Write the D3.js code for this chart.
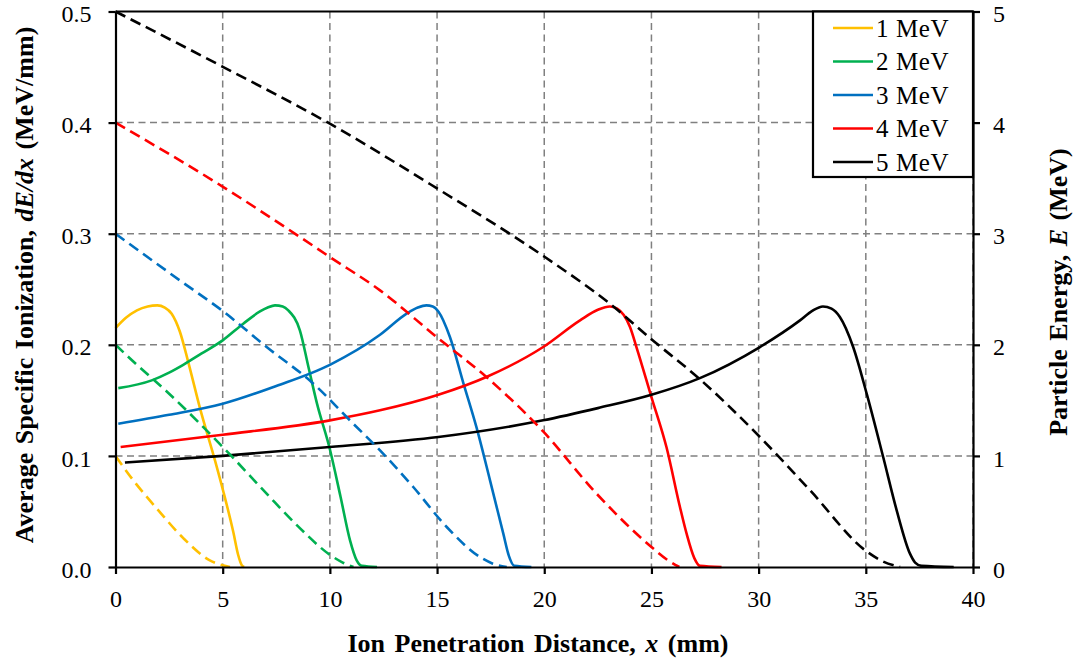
<!DOCTYPE html>
<html>
<head>
<meta charset="utf-8">
<script src="https://cdn.jsdelivr.net/npm/d3@7"></script>
<style>
  html, body { margin: 0; padding: 0; background: #fff; }
  svg { display: block; }
  text { font-family: "Liberation Serif", "Times New Roman", serif; fill: #000; }
</style>
</head>
<body>
<svg id="chart" width="1078" height="666"></svg>
<script>
// Series labels and colours
const seriesNames = ["1 MeV", "2 MeV", "3 MeV", "4 MeV", "5 MeV"];
const seriesColors = ["#FFC000", "#00B050", "#0070C0", "#FF0000", "#000000"];

// Average specific ionization dE/dx (MeV/mm) vs penetration distance x (mm)
const dedx1 = [[0,0.215],[0.5,0.2245],[1.0,0.231],[1.5,0.2345],[1.95,0.2355],[2.3,0.2335],[2.62,0.228],[3.0,0.212],[3.4,0.184],[3.94,0.143],[4.64,0.096],[5.03,0.068],[5.5,0.031],[5.72,0.011],[5.88,0.002],[6.0,0]];
const dedx2 = [[0.13,0.161],[1.69,0.168],[2.5,0.175],[3.16,0.182],[4.0,0.192],[5.0,0.204],[5.96,0.219],[6.74,0.230],[7.1,0.2335],[7.44,0.2355],[7.8,0.2345],[8.06,0.231],[8.6,0.213],[9.0,0.180],[9.4,0.147],[10.0,0.106],[10.5,0.063],[10.94,0.024],[11.25,0.006],[11.5,0.001],[12.2,0]];
const dedx3 = [[0.13,0.129],[2.5,0.137],[5.0,0.147],[7.5,0.163],[10.0,0.182],[12.34,0.209],[13.58,0.228],[14.1,0.2335],[14.5,0.2355],[14.8,0.2345],[15.06,0.230],[15.6,0.207],[16.22,0.166],[16.85,0.125],[17.47,0.078],[18.09,0.030],[18.35,0.010],[18.6,0.001],[19.4,0]];
const dedx4 = [[0.24,0.108],[5.0,0.119],[10.0,0.132],[12.34,0.141],[15.06,0.155],[17.3,0.171],[19.95,0.198],[21.67,0.222],[22.5,0.2315],[23.06,0.2345],[23.4,0.2325],[23.7,0.227],[24.0,0.216],[24.3,0.198],[25.0,0.153],[25.7,0.108],[26.33,0.054],[26.64,0.030],[27.0,0.008],[27.26,0.001],[28.27,0]];
const dedx5 = [[0.44,0.094],[5.0,0.100],[10.0,0.108],[15.06,0.117],[19.95,0.132],[22.5,0.143],[25.0,0.155],[27.26,0.170],[30.06,0.198],[31.93,0.222],[32.5,0.2305],[33.0,0.2345],[33.4,0.2325],[33.79,0.225],[34.41,0.198],[35.04,0.156],[35.81,0.099],[36.44,0.051],[37.06,0.012],[37.3,0.004],[37.6,0.001],[39.1,0]];

// Particle energy E (MeV) vs penetration distance x (mm)
const energy1 = [[0,1.0],[0.83,0.78],[2.0,0.51],[3.16,0.26],[4.4,0.06],[5.0,0.015],[5.34,0]];
const energy2 = [[0,2.0],[0.83,1.85],[2.39,1.58],[3.94,1.29],[5.5,0.98],[7.05,0.66],[8.6,0.35],[10.0,0.11],[10.6,0.04],[11.1,0]];
const energy3 = [[0,3.0],[3.0,2.58],[5.03,2.30],[7.05,1.98],[9.23,1.65],[11.09,1.29],[12.34,1.05],[13.89,0.72],[15.45,0.36],[17.0,0.09],[17.6,0.03],[18.25,0]];
const energy4 = [[0,4.0],[5.03,3.42],[8.45,2.99],[10.0,2.79],[12.34,2.49],[14.98,2.07],[17.3,1.71],[19.95,1.22],[22.44,0.66],[25.0,0.18],[25.7,0.07],[26.3,0]];
const energy5 = [[0,5.0],[5.03,4.50],[10.0,3.99],[14.98,3.41],[20.03,2.79],[23.06,2.37],[25.0,2.05],[27.26,1.69],[30.06,1.17],[32.4,0.69],[35.04,0.14],[35.8,0.05],[36.6,0]];

// Tick values
const xTicks = [0, 5, 10, 15, 20, 25, 30, 35, 40];
const yLeftTicks = [0, 0.1, 0.2, 0.3, 0.4, 0.5];
const yRightTicks = [0, 1, 2, 3, 4, 5];

const dedxSeries = [dedx1, dedx2, dedx3, dedx4, dedx5];
const energySeries = [energy1, energy2, energy3, energy4, energy5];

const svg = d3.select("#chart");
const plotL = 115.5, plotR = 973, plotT = 11.5, plotB = 567;

const x = d3.scaleLinear().domain([0, 40]).range([plotL, plotR]);
const yL = d3.scaleLinear().domain([0, 0.5]).range([plotB, plotT]);
const yR = d3.scaleLinear().domain([0, 5]).range([plotB, plotT]);

// Grid
const grid = svg.append("g").attr("stroke", "#808080").attr("stroke-width", 1.5).attr("stroke-dasharray", "7,4.5");
grid.selectAll("line.v").data(xTicks.slice(1)).join("line")
  .attr("x1", d => x(d)).attr("x2", d => x(d)).attr("y1", plotT).attr("y2", plotB);
grid.selectAll("line.h").data(yLeftTicks.slice(1, -1)).join("line")
  .attr("x1", plotL).attr("x2", plotR).attr("y1", d => yL(d)).attr("y2", d => yL(d));

// Curves: solid = dE/dx (left axis), dashed = particle energy (right axis)
const lineL = d3.line().x(d => x(d[0])).y(d => yL(d[1])).curve(d3.curveMonotoneX);
const lineR = d3.line().x(d => x(d[0])).y(d => yR(d[1])).curve(d3.curveMonotoneX);

const curves = svg.append("g").attr("fill", "none").attr("stroke-width", 2.6)
  .attr("stroke-linejoin", "round");
dedxSeries.forEach((s, i) => {
  curves.append("path").attr("d", lineL(s)).attr("stroke", seriesColors[i]);
});
energySeries.forEach((s, i) => {
  curves.append("path").attr("d", lineR(s)).attr("stroke", seriesColors[i])
    .attr("stroke-dasharray", "11,6");
});

// Axes
function styleAxis(g) {
  g.select(".domain").attr("stroke", "#000").attr("stroke-width", 2.2);
  g.selectAll(".tick line").attr("stroke", "#000").attr("stroke-width", 2.2);
  g.selectAll(".tick text").attr("font-size", 24).attr("font-family", "Liberation Serif").attr("fill", "#000");
}

const axB = svg.append("g").attr("transform", `translate(0,${plotB})`)
  .call(d3.axisBottom(x).tickValues(xTicks).tickFormat(d3.format("d")).tickSize(7).tickSizeOuter(0));
styleAxis(axB);
axB.selectAll(".tick text").attr("y", 40).attr("dy", null);

const axL = svg.append("g").attr("transform", `translate(${plotL},0)`)
  .call(d3.axisLeft(yL).tickValues(yLeftTicks).tickFormat(d3.format(".1f")).tickSize(7).tickSizeOuter(0));
styleAxis(axL);
axL.selectAll(".tick text").attr("x", -24).attr("y", 2.5);

const axR = svg.append("g").attr("transform", `translate(${plotR},0)`)
  .call(d3.axisRight(yR).tickValues(yRightTicks).tickFormat(d3.format("d")).tickSize(7).tickSizeOuter(0));
styleAxis(axR);
axR.selectAll(".tick text").attr("x", 20).attr("y", 2.5);

// Top frame line
svg.append("line").attr("x1", plotL).attr("x2", plotR).attr("y1", plotT).attr("y2", plotT)
  .attr("stroke", "#000").attr("stroke-width", 2.2);

// Axis titles
const xt = svg.append("text").attr("x", 538).attr("y", 652).attr("text-anchor", "middle")
  .attr("font-size", 26).attr("font-weight", "bold").attr("word-spacing", 3);
xt.append("tspan").text("Ion Penetration Distance, ");
xt.append("tspan").attr("font-style", "italic").text("x");
xt.append("tspan").text(" (mm)");

const ylt = svg.append("text").attr("transform", "translate(33,285) rotate(-90)")
  .attr("text-anchor", "middle").attr("font-size", 26).attr("font-weight", "bold")
  .attr("word-spacing", 2);
ylt.append("tspan").text("Average Specific Ionization, ");
ylt.append("tspan").attr("font-style", "italic").text("dE/dx");
ylt.append("tspan").text(" (MeV/mm)");

const yrt = svg.append("text").attr("transform", "translate(1067,292) rotate(-90)")
  .attr("text-anchor", "middle").attr("font-size", 26).attr("font-weight", "bold")
  .attr("word-spacing", 2);
yrt.append("tspan").text("Particle Energy, ");
yrt.append("tspan").attr("font-style", "italic").text("E");
yrt.append("tspan").text(" (MeV)");

// Legend
const lg = svg.append("g");
lg.append("rect").attr("x", 813).attr("y", plotT).attr("width", plotR - 813).attr("height", 177 - plotT)
  .attr("fill", "#fff").attr("stroke", "#000").attr("stroke-width", 2.2);
const legendY = d3.scalePoint().domain(seriesNames).range([28, 162]);
seriesNames.forEach((name, i) => {
  const yy = legendY(name);
  lg.append("line").attr("x1", 833).attr("x2", 873).attr("y1", yy).attr("y2", yy)
    .attr("stroke", seriesColors[i]).attr("stroke-width", 2.6);
  lg.append("text").attr("x", 876).attr("y", yy).attr("dy", "0.34em")
    .attr("font-size", 25).attr("letter-spacing", 0.6).text(name);
});
</script>
</body>
</html>
